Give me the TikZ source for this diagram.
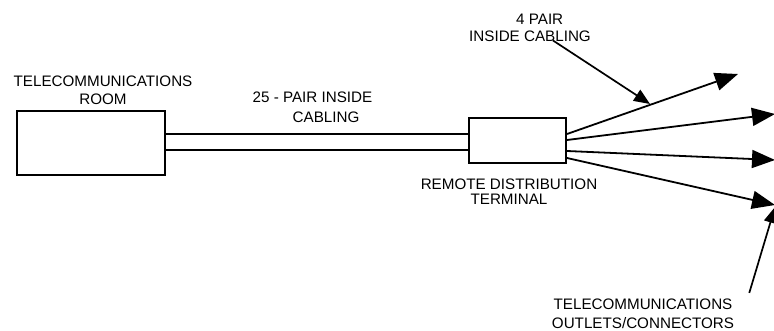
\documentclass[tikz,border=0pt]{standalone}
\usepackage{fontspec}
\setmainfont{Liberation Sans}
\usetikzlibrary{arrows.meta,calc}
\newcommand{\CableHi}{134}
\newcommand{\CableLo}{150}
\newcommand{\FanX}{775}

\begin{document}
\begin{tikzpicture}[
    x=1pt, y=-1pt,
    font=\fontsize{15.2}{18}\selectfont,
    box/.style={draw, line width=2pt, inner sep=0pt},
    cable/.style={line width=2pt},
    feed/.style={-{Triangle[length=23pt,width=18pt]}, line width=1.8pt},
    callout/.style={-{Triangle[length=16pt,width=13pt]}, line width=1.7pt},
    lbl/.style={align=center, inner sep=0pt},
  ]
\useasboundingbox (0,0) rectangle (774,331);

% --- The two boxes -------------------------------------------------------------
\node[box, minimum width=148pt, minimum height=64pt] (room) at (91,143) {};
\node[box, minimum width=97pt, minimum height=45pt] (rdt) at (517.5,140.5) {};

% --- 25-pair cable between them ---------------------------------------------------
\draw[cable] (room.east |- 0,\CableHi) -- (rdt.west |- 0,\CableHi);
\draw[cable] (room.east |- 0,\CableLo) -- (rdt.west |- 0,\CableLo);

% --- Four pair runs out to the outlets -----------------------------------------
\coordinate (o1) at (738,74);
\coordinate (o2) at (\FanX,114);
\coordinate (o3) at (\FanX,160);
\coordinate (o4) at (\FanX,205);
\foreach \i/\y in {1/134, 2/140, 3/151, 4/158} {
  \draw[feed] (rdt.east |- 0,\y) -- (o\i);
}

% --- Labels ------------------------------------------------------------------------
\node[lbl] (roomlbl) at (103,90) {TELECOMMUNICATIONS\\ROOM};
\node[lbl, align=left, font=\fontsize{15.2}{20}\selectfont] (bblbl) at (312.5,107) {25 - PAIR INSIDE\\\hspace*{40pt}CABLING};
\node[lbl, align=left, font=\fontsize{15.2}{17}\selectfont] (pairlbl) at (530,27.5) {\hspace*{47pt}4 PAIR\\INSIDE CABLING};
\node[lbl, font=\fontsize{15.2}{15}\selectfont] (rdtlbl) at (509,192) {REMOTE DISTRIBUTION\\TERMINAL};
\node[lbl, font=\fontsize{15.2}{19}\selectfont] (outlbl) at (643,313.5) {TELECOMMUNICATIONS\\OUTLETS/CONNECTORS};

% --- Pointers from the labels -----------------------------------------------------
\coordinate (c1) at (650,104);
\coordinate (c2) at (\FanX,207);
\draw[callout] ([xshift=23pt,yshift=1pt]pairlbl.south) -- (c1);
\draw[callout] ($(outlbl.north east)+(15,-5.5)$) -- (c2);

\end{tikzpicture}
\end{document}
